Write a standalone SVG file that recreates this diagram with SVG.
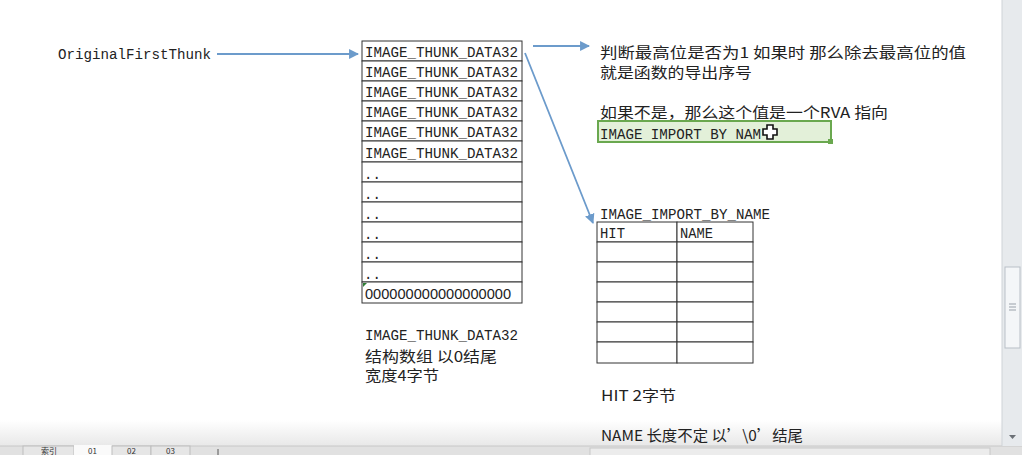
<svg xmlns="http://www.w3.org/2000/svg" width="1022" height="455" viewBox="0 0 1022 455">
<defs>
<style>
.mono{font-family:"Liberation Mono","Noto Sans CJK SC",monospace;font-size:14px;fill:#222}
.cjk{font-family:"Noto Sans CJK SC","Liberation Sans",sans-serif;font-size:15px;fill:#222}
.num{font-family:"Liberation Sans",sans-serif;font-size:14px;fill:#222}
.cell{fill:#fff;stroke:#333;stroke-width:1}
.conn{stroke:#6c9bcb;stroke-width:1.8;fill:none}
.tab{font-family:"Noto Sans CJK SC","Liberation Sans",sans-serif;font-size:8px;fill:#333}
</style>
<marker id="ah" viewBox="0 0 10 10" refX="9" refY="5" markerWidth="5.5" markerHeight="5.5" orient="auto" markerUnits="strokeWidth">
<path d="M0,0 L10,5 L0,10 z" fill="#6c9bcb"/>
</marker>
<linearGradient id="bot" x1="0" y1="0" x2="0" y2="1">
<stop offset="0" stop-color="#ffffff"/>
<stop offset="1" stop-color="#e8e8e8"/>
</linearGradient>
</defs>
<rect width="1022" height="455" fill="#fff"/>

<g id="window-chrome">
<rect x="0" y="420" width="1002" height="26" fill="url(#bot)"/>
<rect x="0" y="446" width="1022" height="9" fill="#e1e1e1"/>
<line x1="0" y1="446" x2="1022" y2="446" stroke="#c8c8c8"/>
<rect x="23" y="446" width="51" height="10" fill="#e6e6e6" stroke="#bdbdbd"/>
<rect x="74" y="445" width="38" height="11" fill="#fafafa"/>
<rect x="112" y="446" width="39" height="10" fill="#e6e6e6" stroke="#bdbdbd"/>
<rect x="151" y="446" width="39" height="10" fill="#e6e6e6" stroke="#bdbdbd"/>
<text class="tab" x="41" y="454">索引</text>
<text class="tab" x="88" y="454">01</text>
<text class="tab" x="127" y="454">02</text>
<text class="tab" x="166" y="454">03</text>
<line x1="218" y1="449" x2="218" y2="455" stroke="#555"/>
<rect x="590" y="448" width="400" height="8" fill="#ececec" stroke="#c8c8c8"/>
<rect x="1002" y="0" width="20" height="446" fill="#e7eaed"/>
<line x1="1002" y1="0" x2="1002" y2="446" stroke="#cfd3d8"/>
<rect x="1005" y="267" width="15" height="81" fill="#f4f6f8" stroke="#b9bfc7"/>
<path d="M1009,304 h7 M1009,307 h7 M1009,310 h7" stroke="#9aa1aa"/>
<path d="M1009,435 h7 l-3.5,4 z" fill="#6b7076"/>
</g>

<g id="label-oft">
<text class="mono" x="58" y="59" textLength="153" lengthAdjust="spacingAndGlyphs">OriginalFirstThunk</text>
</g>

<g id="thunk-array">
<rect class="cell" x="362" y="41" width="160" height="20"/>
<rect class="cell" x="362" y="61" width="160" height="20"/>
<rect class="cell" x="362" y="81" width="160" height="20"/>
<rect class="cell" x="362" y="101" width="160" height="20"/>
<rect class="cell" x="362" y="121" width="160" height="20"/>
<rect class="cell" x="362" y="141" width="160" height="21"/>
<rect class="cell" x="362" y="162" width="160" height="20"/>
<rect class="cell" x="362" y="182" width="160" height="20"/>
<rect class="cell" x="362" y="202" width="160" height="20"/>
<rect class="cell" x="362" y="222" width="160" height="20"/>
<rect class="cell" x="362" y="242" width="160" height="20"/>
<rect class="cell" x="362" y="262" width="160" height="20"/>
<rect class="cell" x="362" y="282" width="160" height="21"/>
<text class="mono" x="365" y="57" textLength="153" lengthAdjust="spacingAndGlyphs">IMAGE_THUNK_DATA32</text>
<text class="mono" x="365" y="77" textLength="153" lengthAdjust="spacingAndGlyphs">IMAGE_THUNK_DATA32</text>
<text class="mono" x="365" y="97" textLength="153" lengthAdjust="spacingAndGlyphs">IMAGE_THUNK_DATA32</text>
<text class="mono" x="365" y="117" textLength="153" lengthAdjust="spacingAndGlyphs">IMAGE_THUNK_DATA32</text>
<text class="mono" x="365" y="137" textLength="153" lengthAdjust="spacingAndGlyphs">IMAGE_THUNK_DATA32</text>
<text class="mono" x="365" y="158" textLength="153" lengthAdjust="spacingAndGlyphs">IMAGE_THUNK_DATA32</text>
<text class="mono" x="364" y="179">..</text>
<text class="mono" x="364" y="199">..</text>
<text class="mono" x="364" y="219">..</text>
<text class="mono" x="364" y="239">..</text>
<text class="mono" x="364" y="259">..</text>
<text class="mono" x="364" y="279">..</text>
<path d="M363,283 L367,283 L363,287 z" fill="#2e7d32"/>
<text class="num" x="365" y="299" textLength="146" lengthAdjust="spacingAndGlyphs">000000000000000000</text>
</g>

<g id="thunk-note">
<text class="mono" x="365" y="340" textLength="153" lengthAdjust="spacingAndGlyphs">IMAGE_THUNK_DATA32</text>
<text class="cjk" x="365" y="362" textLength="132" lengthAdjust="spacingAndGlyphs">结构数组 以0结尾</text>
<text class="cjk" x="365" y="381" textLength="74" lengthAdjust="spacingAndGlyphs">宽度4字节</text>
</g>

<g id="msb-note">
<text class="cjk" x="600" y="58" textLength="366" lengthAdjust="spacingAndGlyphs">判断最高位是否为1 如果时 那么除去最高位的值</text>
<text class="cjk" x="600" y="78" textLength="152" lengthAdjust="spacingAndGlyphs">就是函数的导出序号</text>
<text class="cjk" x="600" y="118" textLength="288" lengthAdjust="spacingAndGlyphs">如果不是，那么这个值是一个RVA 指向</text>
</g>

<g id="selected-cell">
<rect x="598" y="121" width="233" height="21" fill="#e3f0d9" stroke="#6aa84f" stroke-width="2"/>
<rect x="828" y="139" width="5" height="5" fill="#6aa84f"/>
<text class="mono" x="600" y="139" textLength="161" lengthAdjust="spacingAndGlyphs">IMAGE IMPORT BY NAM</text>
<path d="M767,125 h6 v4 h4 v6 h-4 v4 h-6 v-4 h-4 v-6 h4 z" fill="#fff" stroke="#111" stroke-width="1.6"/>
</g>

<g id="import-by-name">
<text class="mono" x="600" y="219" textLength="170" lengthAdjust="spacingAndGlyphs">IMAGE_IMPORT_BY_NAME</text>
<rect class="cell" x="597" y="222" width="80" height="20"/>
<rect class="cell" x="677" y="222" width="76" height="20"/>
<rect class="cell" x="597" y="242" width="80" height="20"/>
<rect class="cell" x="677" y="242" width="76" height="20"/>
<rect class="cell" x="597" y="262" width="80" height="20"/>
<rect class="cell" x="677" y="262" width="76" height="20"/>
<rect class="cell" x="597" y="282" width="80" height="20"/>
<rect class="cell" x="677" y="282" width="76" height="20"/>
<rect class="cell" x="597" y="302" width="80" height="20"/>
<rect class="cell" x="677" y="302" width="76" height="20"/>
<rect class="cell" x="597" y="322" width="80" height="20"/>
<rect class="cell" x="677" y="322" width="76" height="20"/>
<rect class="cell" x="597" y="342" width="80" height="21"/>
<rect class="cell" x="677" y="342" width="76" height="21"/>
<text class="mono" x="600" y="238" textLength="25" lengthAdjust="spacingAndGlyphs">HIT</text>
<text class="mono" x="680" y="238" textLength="33" lengthAdjust="spacingAndGlyphs">NAME</text>
</g>

<g id="ibn-note">
<text class="cjk" x="601" y="401" textLength="75" lengthAdjust="spacingAndGlyphs">HIT 2字节</text>
<text class="cjk" x="601" y="441" textLength="202" lengthAdjust="spacingAndGlyphs">NAME 长度不定 以’\0’结尾</text>
</g>

<g id="connectors">
<line class="conn" x1="217" y1="54" x2="358" y2="54" marker-end="url(#ah)"/>
<line class="conn" x1="533" y1="46" x2="589" y2="46" marker-end="url(#ah)"/>
<line class="conn" x1="525" y1="53" x2="593" y2="223" marker-end="url(#ah)"/>
</g>
</svg>
